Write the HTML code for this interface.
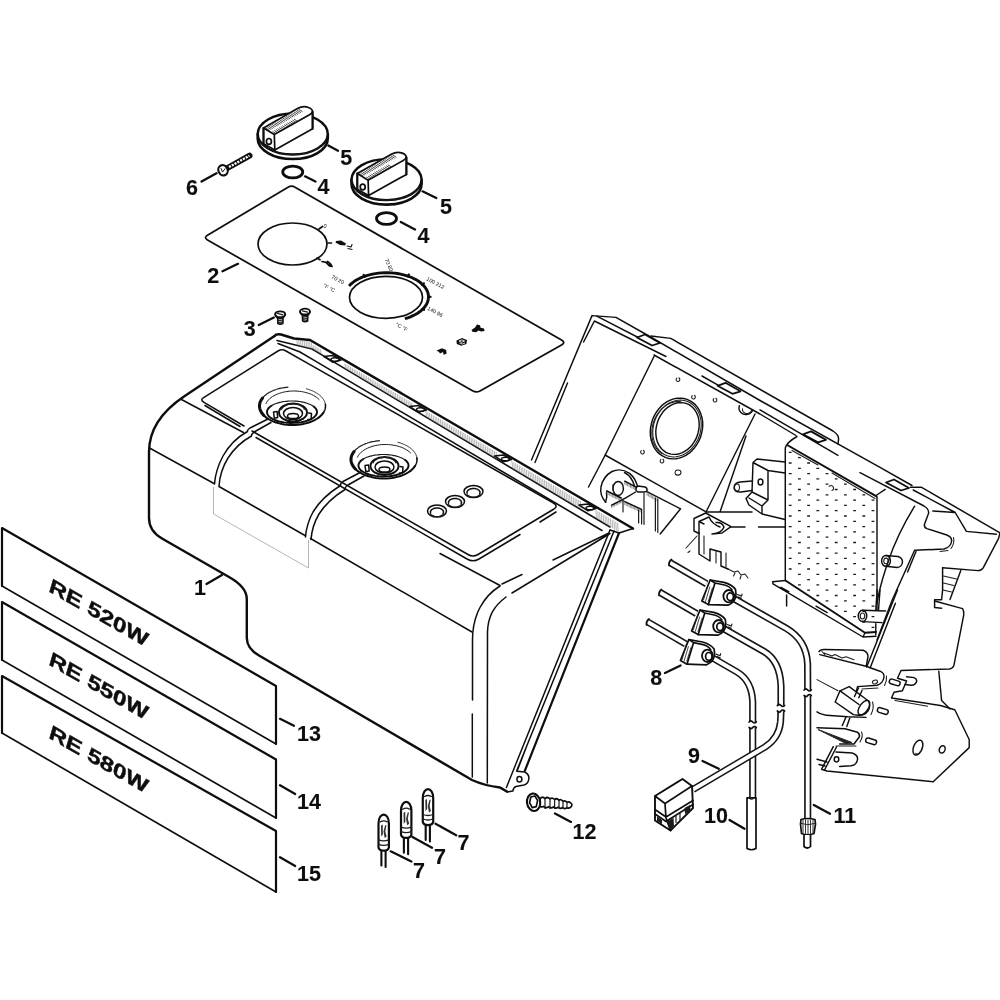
<!DOCTYPE html>
<html><head><meta charset="utf-8"><title>RE 520W / 550W / 580W parts diagram</title>
<style>
html,body{margin:0;padding:0;background:#fff;}
body{width:1000px;height:1000px;overflow:hidden;}
svg{display:block;}
.n{font-family:"Liberation Sans",sans-serif;font-weight:bold;font-size:21.5px;fill:#111;stroke:#111;stroke-width:.12;}
.m{font-family:"Liberation Sans",sans-serif;font-weight:bold;font-size:19px;fill:#111;stroke:#111;stroke-width:.4;}
.t{font-family:"Liberation Sans",sans-serif;font-size:5.4px;fill:#111;}
.k{stroke:#0c0c0c;stroke-width:2.2;fill:none;stroke-linecap:round;stroke-linejoin:round;}
.l{stroke:#101010;stroke-width:1.7;fill:none;stroke-linecap:round;stroke-linejoin:round;}
.h{stroke:#1c1c1c;stroke-width:1.2;fill:none;stroke-linecap:round;stroke-linejoin:round;}
.w{fill:#fff;}
#housing .l,#bracket .l{stroke-width:1.45;}
#cover .l{stroke-width:1.5;}
#housing .h,#bracket .h{stroke-width:1.05;}
</style></head>
<body>
<svg width="1000" height="1000" viewBox="0 0 1000 1000">
<rect width="1000" height="1000" fill="#fff"/>
<defs><filter id="soft" x="0" y="0" width="1000" height="1000" filterUnits="userSpaceOnUse"><feGaussianBlur stdDeviation="0.55"/></filter></defs>
<g id="all" filter="url(#soft)">
<!--LABELS-->
<g id="labels">
<path class="k" d="M2,586 L2,528 L276,686 L276,744"/><path class="l" style="stroke-width:1.6" d="M276,744 L2,586"/>
<path class="k" d="M2,660 L2,602 L276,759.5 L276,818"/><path class="l" style="stroke-width:1.6" d="M276,818 L2,660"/>
<path class="k" d="M2,733 L2,676 L276,831 L276,892"/><path class="l" style="stroke-width:1.6" d="M276,892 L2,733"/>
<text class="m" transform="matrix(1.205,0.691,-0.29,0.98,48,591)" x="0" y="0">RE 520W</text>
<text class="m" transform="matrix(1.205,0.691,-0.29,0.98,48,664.2)" x="0" y="0">RE 550W</text>
<text class="m" transform="matrix(1.205,0.691,-0.29,0.98,48,737.6)" x="0" y="0">RE 580W</text>
</g>
<!--PANEL-->
<g id="panel">
<path class="l" style="stroke-width:1.75" d="M207.5,235.3 L288,187.3 Q291.5,185.2 295,187.2 L561.5,340 Q566,342.5 561.5,345 L480,391 Q476.3,393 472.5,390.8 L207.5,239.9 Q203.5,237.6 207.5,235.3 Z"/>
<ellipse class="l" cx="292.5" cy="244" rx="34.5" ry="21"/>
<ellipse class="l" cx="386" cy="297.3" rx="36.5" ry="21"/>
<path class="k" style="stroke-width:2.9;stroke-linecap:butt" d="M349.1,285.9 L350.6,284.3 L352.4,282.8 L354.3,281.3 L356.5,280.0 L358.8,278.7 L361.2,277.6 L363.9,276.5 L366.6,275.6 L369.5,274.8 L372.4,274.1 L375.4,273.6 L378.5,273.1 L381.7,272.9 L384.9,272.7 L388.0,272.7 L391.2,272.9 L394.4,273.1 L397.5,273.5 L400.5,274.1 L403.4,274.8 L406.3,275.6 L409.1,276.5 L411.7,277.5 L414.1,278.7 L416.5,279.9 L418.6,281.3 L420.6,282.7 L422.3,284.3 L423.9,285.9 L425.2,287.5 L426.3,289.2 L427.2,291.0 L427.9,292.8 L428.3,294.6 L428.5,296.4 L428.4,298.3 L428.1,300.1 L427.6,301.9 L426.8,303.7 L425.8,305.4 L424.6,307.1 L423.1,308.7 L421.5,310.3 L419.6,311.8 L417.6,313.2 L415.3,314.5 L412.9,315.7 L410.4,316.8 L407.7,317.8 L404.9,318.7"/>
<path class="l" d="M319,229 L322.5,226.5 M328,243 L331.5,243 M317,258 L320,259.8"/><path class="k" style="stroke-width:2.2" d="M364.5,276.8 l-0.8,-1.8 M408,276.2 l0.8,-1.8 M422,284.6 l1.8,-1.2 M428.5,296.9 l2,0 M422.3,308.8 l1.8,1"/>
<text class="t" x="323.5" y="227.5" font-style="italic">0</text>
<path d="M336,241 l5,-0.5 l5,3 l-1,2 l-5,-0.5 l-4.5,-2.5z" fill="#111"/>
<path class="h" d="M347,246 l4,1 l1,-2.5 M348,248.5 l4,1"/>
<path class="l" d="M322,261.5 l4,0.8 M326,262.3 l3.5,3.6 l2.5,0.6 l-1.5,-2.6 l-3,-2.4"/>
<path d="M327.5,264 l4.5,3 l-1.5,-3.5z" fill="#111"/>
<text class="t" transform="translate(384.5,259.5) rotate(66)">70 80</text>
<text class="t" transform="translate(331,278) rotate(28)">70 20</text>
<text class="t" transform="translate(322.5,286.5) rotate(28)">°F °C</text>
<text class="t" transform="translate(426,280) rotate(28)">100 212</text>
<text class="t" transform="translate(427,309.5) rotate(28)">140 96</text>
<text class="t" transform="translate(395,325.5) rotate(28)">°C °F</text>
<g fill="#111">
<path d="M436.5,350.5 l5.5,-2.2 l4.2,1.8 l0.4,3.6 l-3,1 l-0.6,-2.6 l-3,1.4 l-1,-1.6z"/>
<path d="M456.5,340.5 l5.5,-2.6 l5,2.2 l-0.6,4 l-5,1.6 l-4.6,-1.8z"/>
<path d="M471.5,330 l3.5,-2.4 l2,-3 l3,0.6 l0.6,2.6 l3.4,0.6 l0.6,2.6 l-3.4,0.6 l-2.6,-1.2 l-2.6,1.8 l-3.6,-0.4z"/>
</g>
<path d="M459,341 l3,-1.2 l2.6,1.2 l-2.8,1.2z M459.5,343 l3,1 l2.5,-1" fill="none" stroke="#fff" stroke-width=".8"/>
</g>
<!--KNOBS-->
<g id="knobA">
<path class="k" style="stroke-width:2.6" d="M257.7,134 L257.7,138.5 A35,20.5 0 0 0 327.8,138.5 L327.8,134"/>
<ellipse class="k w" style="stroke-width:2.4" cx="292.75" cy="134" rx="35" ry="20.5"/>
<path class="h" d="M262,144 A35,20.5 0 0 0 323,144.5" style="stroke-width:.9"/>
<path class="l w" d="M263.5,128 L297.5,108.6 Q303,105.5 308.5,107.5 Q312.6,109 312.6,112 L312.6,128.8 L274.8,150 L263.5,143.7 Z"/>
<path class="l" d="M263.5,128 L274.3,134.6 L274.8,150 M274.3,134.6 L309.5,114.8 Q312,113.5 312.5,111.5"/>
<path class="h" style="stroke-width:.8" d="M266.0,128.2 l3.2,2.0 M267.6,127.3 l3.2,2.0 M269.1,126.4 l3.2,2.0 M270.7,125.5 l3.2,2.0 M272.3,124.6 l3.2,2.0 M273.9,123.7 l3.2,2.0 M275.4,122.9 l3.2,2.0 M277.0,122.0 l3.2,2.0 M278.6,121.1 l3.2,2.0 M280.1,120.2 l3.2,2.0 M281.7,119.3 l3.2,2.0 M283.3,118.4 l3.2,2.0 M284.9,117.5 l3.2,2.0 M286.4,116.6 l3.2,2.0 M288.0,115.7 l3.2,2.0 M289.6,114.8 l3.2,2.0 M291.1,114.0 l3.2,2.0 M292.7,113.1 l3.2,2.0 M294.3,112.2 l3.2,2.0 M295.9,111.3 l3.2,2.0 M297.4,110.4 l3.2,2.0 M299.0,109.5 l3.2,2.0 M275.5,133.2 l-2.6,-1.6 M277.2,132.3 l-2.6,-1.6 M278.8,131.3 l-2.6,-1.6 M280.5,130.4 l-2.6,-1.6 M282.1,129.4 l-2.6,-1.6 M283.8,128.5 l-2.6,-1.6 M285.4,127.6 l-2.6,-1.6 M287.1,126.6 l-2.6,-1.6 M288.7,125.7 l-2.6,-1.6 M290.4,124.8 l-2.6,-1.6 M292.0,123.8 l-2.6,-1.6 M293.7,122.9 l-2.6,-1.6 M295.3,121.9 l-2.6,-1.6 M297.0,121.0 l-2.6,-1.6"/>
<ellipse class="l" cx="268.9" cy="141.4" rx="2.5" ry="2.9"/>
<path class="k" style="stroke-width:2" d="M263.5,128 L263.5,143.7 M312.6,112 L312.6,128.8"/>
</g>
<use href="#knobA" transform="translate(93.8,45.6)"/>
<ellipse class="k" style="stroke-width:2.8" cx="292.75" cy="172" rx="10" ry="5.9"/>
<ellipse class="k" style="stroke-width:2.8" cx="386.5" cy="218.5" rx="10" ry="5.9"/>
<!--COVER-->
<g id="cover">
<!-- outline -->
<path class="k" style="stroke-width:2.4" d="M274.5,336 L184,396.5 C161,412 149,430 149,452 L149,518 Q149,531 162,538.5 L229,577 Q246.8,587 246.8,599 L246.8,638 Q246.8,648.5 259,655.5 L472,780 Q484,785.5 500,787.5 L507,791.5"/>
<path class="k" style="stroke-width:2.5" d="M274.5,336 Q276.5,333.5 281,334.5 L294,338.5 L310,340 L633,528.5"/>
<path class="l" d="M633,528.5 L619,533 L610,530"/>
<path class="l" d="M277,340.5 L312,349 L610,527"/>
<path class="l" d="M278,343.5 L300,352 L602,530.5"/>
<path class="h" style="stroke-width:.55;stroke:#777" d="M297.0,340.4 L297.5,345.1 M298.8,340.6 L299.3,345.5 M300.6,340.7 L301.1,346.0 M302.4,340.9 L302.9,346.4 M304.2,341.1 L304.7,346.8 M306.0,341.2 L306.5,347.3 M307.8,341.4 L308.3,347.7 M309.6,341.6 L310.1,348.1 M311.4,342.4 L311.9,348.6 M313.2,345.5 L313.7,349.6 M315.0,346.5 L315.5,350.7 M316.8,347.6 L317.3,351.8 M318.6,348.6 L319.1,352.8 M320.4,349.7 L320.9,353.9 M345.0,364.0 L345.5,368.6 M346.8,365.1 L347.3,369.7 M348.6,366.1 L349.1,370.7 M350.4,367.2 L350.9,371.8 M352.2,368.2 L352.7,372.9 M354.0,369.3 L354.5,374.0 M355.8,370.3 L356.3,375.0 M357.6,371.4 L358.1,376.1 M359.4,372.4 L359.9,377.2 M361.2,373.5 L361.7,378.3 M363.0,374.5 L363.5,379.3 M364.8,375.6 L365.3,380.4 M366.6,376.6 L367.1,381.5 M368.4,377.7 L368.9,382.6 M370.2,378.7 L370.7,383.6 M372.0,379.8 L372.5,384.7 M373.8,380.8 L374.3,385.8 M375.6,381.9 L376.1,386.9 M377.4,382.9 L377.9,387.9 M379.2,384.0 L379.7,389.0 M381.0,385.0 L381.5,390.1 M382.8,386.1 L383.3,391.2 M384.6,387.1 L385.1,392.2 M386.4,388.2 L386.9,393.3 M388.2,389.2 L388.7,394.4 M390.0,390.3 L390.5,395.5 M391.8,391.3 L392.3,396.5 M393.6,392.4 L394.1,397.6 M395.4,393.4 L395.9,398.7 M397.2,394.5 L397.7,399.8 M399.0,395.5 L399.5,400.8 M400.8,396.6 L401.3,401.9 M402.6,397.6 L403.1,403.0 M404.4,398.7 L404.9,404.1 M406.2,399.7 L406.7,405.1 M408.0,400.8 L408.5,406.2 M409.8,401.8 L410.3,407.3 M411.6,402.9 L412.1,408.4 M426.0,411.3 L426.5,417.0 M427.8,412.3 L428.3,418.0 M429.6,413.4 L430.1,419.1 M431.4,414.4 L431.9,420.2 M433.2,415.5 L433.7,421.3 M435.0,416.6 L435.5,422.3 M436.8,417.6 L437.3,423.4 M438.6,418.7 L439.1,424.5 M440.4,419.7 L440.9,425.6 M442.2,420.8 L442.7,426.6 M444.0,421.8 L444.5,427.7 M445.8,422.9 L446.3,428.8 M447.6,423.9 L448.1,429.9 M449.4,425.0 L449.9,430.9 M451.2,426.0 L451.7,432.0 M453.0,427.1 L453.5,433.1 M454.8,428.1 L455.3,434.2 M456.6,429.2 L457.1,435.2 M458.4,430.2 L458.9,436.3 M460.2,431.3 L460.7,437.4 M462.0,432.3 L462.5,438.4 M463.8,433.4 L464.3,439.5 M465.6,434.4 L466.1,440.6 M467.4,435.5 L467.9,441.7 M469.2,436.5 L469.7,442.7 M471.0,437.6 L471.5,443.8 M472.8,438.6 L473.3,444.9 M474.6,439.7 L475.1,446.0 M476.4,440.7 L476.9,447.0 M478.2,441.8 L478.7,448.1 M480.0,442.8 L480.5,449.2 M481.8,443.9 L482.3,450.3 M483.6,444.9 L484.1,451.3 M485.4,446.0 L485.9,452.4 M487.2,447.0 L487.7,453.5 M489.0,448.1 L489.5,454.6 M490.8,449.1 L491.3,455.6 M492.6,450.2 L493.1,456.7 M494.4,451.2 L494.9,457.8 M496.2,452.3 L496.7,458.9 M512.0,461.5 L512.5,468.3 M513.8,462.5 L514.3,469.4 M515.6,463.6 L516.1,470.4 M517.4,464.6 L517.9,471.5 M519.2,465.7 L519.7,472.6 M521.0,466.7 L521.5,473.7 M522.8,467.8 L523.3,474.7 M524.6,468.8 L525.1,475.8 M526.4,469.9 L526.9,476.9 M528.2,470.9 L528.7,478.0 M530.0,472.0 L530.5,479.0 M531.8,473.0 L532.3,480.1 M533.6,474.1 L534.1,481.2 M535.4,475.1 L535.9,482.3 M537.2,476.2 L537.7,483.3 M539.0,477.2 L539.5,484.4 M540.8,478.3 L541.3,485.5 M542.6,479.3 L543.1,486.6 M544.4,480.4 L544.9,487.6 M546.2,481.4 L546.7,488.7 M548.0,482.5 L548.5,489.8 M549.8,483.5 L550.3,490.9 M551.6,484.6 L552.1,491.9 M553.4,485.6 L553.9,493.0 M555.2,486.7 L555.7,494.1 M557.0,487.7 L557.5,495.2 M558.8,488.8 L559.3,496.2 M560.6,489.9 L561.1,497.3 M562.4,490.9 L562.9,498.4 M564.2,492.0 L564.7,499.5 M566.0,493.0 L566.5,500.5 M567.8,494.1 L568.3,501.6 M569.6,495.1 L570.1,502.7 M571.4,496.2 L571.9,503.8 M573.2,497.2 L573.7,504.8 M575.0,498.3 L575.5,505.9 M576.8,499.3 L577.3,507.0 M578.6,500.4 L579.1,508.1 M580.4,501.4 L580.9,509.1 M596.0,510.5 L596.5,518.4 M597.8,511.6 L598.3,519.5 M599.6,512.6 L600.1,520.6 M601.4,513.7 L601.9,521.7 M603.2,514.7 L603.7,522.7 M605.0,515.8 L605.5,523.8 M606.8,516.8 L607.3,524.9 M608.6,517.9 L609.1,526.0 M610.4,518.9 L610.9,527.0 M612.2,520.0 L612.7,528.1 M614.0,521.0 L614.5,529.2 M615.8,522.1 L616.3,530.3 M617.6,523.1 L618.1,531.3"/>
<!-- clips on flange -->
<g id="clipc"><path class="l" d="M324,356.5 l9,-1 l8,4.6 l-8,2.2z" fill="#fff"/><ellipse class="l" cx="335" cy="359.5" rx="4" ry="1.8"/></g>
<use href="#clipc" transform="translate(85.5,50)"/>
<use href="#clipc" transform="translate(170.5,99.5)"/>
<use href="#clipc" transform="translate(255,148.5)"/>
<!-- recessed panel -->
<path class="l" d="M204,397.3 Q199.5,399.8 204,402.3 L244,426 M252,431 L468,554.5 Q473,557.5 478,554.5 L554,509 Q558.5,506 553.5,503 L286,351 Q282,348.6 278,351 L204,397.3"/>
<path class="l" d="M205,405.5 L240,426.5 M256,437.5 L467,559 Q473,562.5 479,559 L520,534.5 M540,522 L556,512"/>
<!-- line A -->
<path class="l" d="M180.5,399 L243.5,432.5 M440,553.5 L500,585.5"/>
<!-- line B -->
<path class="l" d="M149.5,448 L214,483.5 M219,486.5 L305,535.5 M310.5,538.5 L472,632"/>
<!-- straps -->
<path class="l" d="M268,419 L250,428 Q247,430 247.5,431.5 Q232,440 223,456 Q215.5,470 214.5,484"/>
<path class="l" d="M271,422.5 L255,431.5 Q251,434 251.5,436 Q237,444 228,458 Q220,471 219,486"/>
<path class="l" d="M361,472 L343,481.5 Q340,483.5 340.5,485.5 Q322,497 313,512 Q306.5,524 305.5,537"/>
<path class="l" d="M364,476 L348,485 Q344.5,487.5 345,489.5 Q328,500 319,514 Q312,526 311,539.5"/>
<!-- faint rect -->
<path d="M213.5,487 L213.5,514 L308.5,568 L308.5,540" fill="none" stroke="#b5b5b5" stroke-width="1"/>
<!-- right rounded edge -->
<path class="l" d="M502,584 L522,574.5 M553,560 L608,533.5 M512,593 L610,533.5"/>
<path class="l" d="M500,586 C484,596 472.5,614 472.5,640 L472.5,700 M472.3,714 L472.3,777"/>
<path class="l" d="M506,597 C494,606 488,616 487.5,632 L487.3,783"/>
<!-- right flange -->
<path class="l" d="M610,530 L506.4,787.5"/>
<path class="l" d="M614,531 L516.8,770.5 M526,748 L517.5,770"/>
<path class="k" style="stroke-width:2.2" d="M619,533 L524.8,770.8"/>
<path class="l" d="M516.8,771.2 L524.8,772 Q529.5,774.5 528.8,779 Q528.5,783.5 524,785 L516,786.4 Q513.5,787 512.8,791 L507.2,792 L500.8,788"/>
<ellipse class="l" cx="519.4" cy="779.2" rx="2.5" ry="2.7"/>
<g id="mount">
<path class="k" d="M263.9,415.5 L263.4,415.0 L262.9,414.4 L262.5,413.9 L262.0,413.3 L261.7,412.8 L261.3,412.2 L261.0,411.6 L260.7,411.0 L260.4,410.4 L260.2,409.8 L260.0,409.2 L259.8,408.6 L259.7,408.0 L259.6,407.4 L259.5,406.8 L259.5,406.2 L259.5,405.6 L259.5,405.0 L259.6,404.4 L259.7,403.8 L259.9,403.2 L260.0,402.6 L260.2,402.0 L260.5,401.4 L260.8,400.8 L261.1,400.2 L261.4,399.7 L261.8,399.1 L262.2,398.5 L262.6,398.0" style="stroke-width:3"/>
<path class="l" d="M323.5,412.5 L322.5,413.9 L321.3,415.3 L319.9,416.6 L318.3,417.9 L316.5,419.0 L314.6,420.1 L312.5,421.1 L310.3,422.0 L308.0,422.8 L305.6,423.4 L303.1,424.0 L300.5,424.4 L297.9,424.7 L295.2,424.9 L292.5,425.0 L289.8,424.9 L287.1,424.7 L284.5,424.4 L281.9,424.0 L279.4,423.4 L277.0,422.8 L274.7,422.0 L272.5,421.1 L270.4,420.1 L268.5,419.0 L266.7,417.9 L265.1,416.6 L263.7,415.3 L262.5,413.9 L261.5,412.5" style="stroke-width:2"/>
<path class="h" d="M261.5,399.5 L261.9,398.9 L262.4,398.2 L262.9,397.6 L263.4,397.0 L264.0,396.4 L264.6,395.8 L265.3,395.2 L266.0,394.7 L266.7,394.1 L267.5,393.6 L268.3,393.1 L269.1,392.6 L269.9,392.1 L270.8,391.7 L271.7,391.2 L272.7,390.8 L273.6,390.4 L274.6,390.0 L275.6,389.7 L276.7,389.3 L277.7,389.0 L278.8,388.7 L279.9,388.4 L281.0,388.2 L282.1,388.0 L283.3,387.8 L284.4,387.6 L285.6,387.4 L286.7,387.3 L287.9,387.2"/>
<path class="h" d="M306.4,388.8 L307.6,389.1 L308.7,389.4 L309.7,389.8 L310.8,390.2 L311.8,390.6 L312.8,391.0 L313.8,391.5 L314.7,392.0 L315.6,392.4 L316.5,393.0 L317.3,393.5 L318.1,394.0 L318.9,394.6 L319.6,395.2 L320.3,395.8 L321.0,396.4 L321.6,397.0 L322.2,397.7 L322.7,398.3 L323.2,399.0 L323.6,399.7 L324.0,400.3 L324.4,401.0 L324.7,401.7 L324.9,402.4 L325.1,403.1 L325.3,403.8 L325.4,404.6 L325.5,405.3 L325.5,406.0" style="stroke-width:.9"/>
<path class="l" d="M325.4,404.3 L325.4,404.7 L325.5,405.0 L325.5,405.3 L325.5,405.7 L325.5,406.0 L325.5,406.3 L325.5,406.7 L325.5,407.0 L325.4,407.3 L325.4,407.7 L325.3,408.0 L325.3,408.3 L325.2,408.6 L325.1,409.0 L325.0,409.3 L324.9,409.6 L324.8,410.0 L324.7,410.3 L324.5,410.6 L324.4,410.9 L324.2,411.2 L324.1,411.6 L323.9,411.9 L323.7,412.2 L323.5,412.5 L323.3,412.8 L323.1,413.1 L322.9,413.4 L322.6,413.7 L322.4,414.0"/>
<path class="h" d="M266.0,403.6 L266.7,402.3 L267.5,401.1 L268.5,399.9 L269.7,398.7 L271.0,397.7 L272.4,396.6 L274.0,395.7 L275.7,394.8 L277.6,394.0 L279.5,393.3 L281.5,392.7 L283.6,392.1 L285.8,391.7 L288.0,391.4 L290.2,391.1 L292.5,391.0 L294.8,391.0 L297.0,391.1 L299.3,391.3 L301.5,391.6 L303.7,392.0 L305.8,392.5 L307.8,393.1 L309.8,393.7 L311.7,394.5 L313.4,395.4 L315.0,396.3 L316.5,397.3 L317.9,398.4 L319.1,399.5" style="stroke-width:1"/>
<path class="l" d="M313.7,406.5 L315.2,407.9 L316.3,409.4 L316.9,410.9 L317.0,412.5 L316.6,414.1 L315.6,415.6 L314.2,417.0 L312.4,418.4 L310.1,419.6 L307.5,420.6 L304.6,421.5 L301.4,422.2 L298.0,422.7 L294.5,422.9 L290.9,423.0 L287.4,422.8 L283.9,422.4 L280.7,421.8 L277.6,421.0 L274.8,420.0 L272.4,418.8 L270.4,417.6 L268.8,416.2 L267.7,414.7 L267.1,413.1 L267.0,411.6 L267.4,410.0 L268.3,408.5 L269.7,407.0 L271.5,405.7" style="stroke-width:1.9"/>
<path class="h" d="M271.5,405.7 L272.5,405.1 L273.6,404.5 L274.8,404.0 L276.0,403.5 L277.4,403.1 L278.8,402.7 L280.2,402.3 L281.7,402.0 L283.2,401.7 L284.8,401.5 L286.4,401.3 L288.1,401.1 L289.7,401.0 L291.4,401.0 L293.1,401.0 L294.8,401.1 L296.4,401.2 L298.0,401.3 L299.7,401.5 L301.2,401.8 L302.8,402.1 L304.2,402.4 L305.7,402.8 L307.0,403.2 L308.3,403.7 L309.6,404.2 L310.7,404.7 L311.8,405.3 L312.8,405.9 L313.7,406.5"/>
<ellipse class="l" cx="293" cy="412.5" rx="14" ry="9" style="stroke-width:1.9"/>
<ellipse class="l" cx="293" cy="413.5" rx="9.5" ry="6"/>
<ellipse class="l" cx="293" cy="416" rx="5.5" ry="2.6"/>
<path class="h" d="M281.7,409.4 L281.9,408.8 L282.2,408.2 L282.7,407.7 L283.2,407.1 L283.8,406.6 L284.5,406.2 L285.2,405.7 L286.0,405.3 L286.9,405.0 L287.8,404.7 L288.8,404.4 L289.8,404.3 L290.9,404.1 L291.9,404.0 L293.0,404.0 L294.1,404.0 L295.1,404.1 L296.2,404.3 L297.2,404.4 L298.2,404.7 L299.1,405.0 L300.0,405.3 L300.8,405.7 L301.5,406.2 L302.2,406.6 L302.8,407.1 L303.3,407.7 L303.8,408.2 L304.1,408.8 L304.3,409.4"/>
<path class="l" d="M273.5,412 l3.6,-0.6 l0.6,6 l-3.4,0.8z M308.5,413 l3,0.6 l-0.4,5.6 l-3.2,0.4"/>
</g>
<use href="#mount" transform="translate(91.5,53.5)"/>
<!-- led holes -->
<g id="led"><ellipse class="l" cx="473.5" cy="491.5" rx="9.5" ry="6"/><path class="l" d="M467.1,493.2 L467.0,492.7 L467.0,492.2 L467.1,491.7 L467.3,491.3 L467.6,490.8 L468.0,490.4 L468.4,490.0 L469.0,489.6 L469.6,489.3 L470.2,489.0 L471.0,488.8 L471.7,488.7 L472.5,488.5 L473.3,488.5 L474.1,488.5 L474.9,488.6 L475.6,488.7 L476.3,488.9 L477.0,489.1 L477.7,489.4 L478.3,489.8 L478.8,490.1 L479.2,490.6 L479.5,491.0 L479.8,491.5 L479.9,491.9 L480.0,492.4 L480.0,492.9 L479.8,493.4 L479.6,493.9"/><path class="h" d="M479.9,494.1 L479.8,494.5 L479.6,494.8 L479.3,495.1 L479.1,495.4 L478.7,495.6 L478.3,495.9 L477.9,496.1 L477.4,496.4 L476.9,496.6 L476.4,496.7 L475.9,496.9 L475.3,497.0 L474.7,497.0 L474.1,497.1 L473.5,497.1 L472.9,497.1 L472.3,497.0 L471.7,497.0 L471.1,496.9 L470.6,496.7 L470.1,496.6 L469.6,496.4 L469.1,496.1 L468.7,495.9 L468.3,495.6 L467.9,495.4 L467.7,495.1 L467.4,494.8 L467.2,494.5 L467.1,494.1"/></g>
<use href="#led" transform="translate(-18.5,10)"/>
<use href="#led" transform="translate(-36.5,19.5)"/>
</g>
<!--HOUSING-->
<g id="bracket">
<!-- upper right lid -->
<path class="l" d="M910.4,487.3 L921.6,487.3 L1000,532.8 L998.6,538.4 L983.2,567.8 Q981.5,570.5 978,570.6 L942.6,567.8"/>
<path class="l" d="M913.2,490 L955.2,512.5 L966.4,531.4 L996.5,534.2 M932.8,511 L955.2,512.5"/>
<path class="l" d="M860,472.6 L924,506 Q929,509 928.6,513.2 L924.4,524.4 Q924,527.5 927,528.6 L946.8,535 Q952,537 951.6,541 Q951,547 944,549 L914.6,550.3 L892.2,600 L877,640"/>
<path class="h" d="M953.5,537.5 Q955,543 951,548.5 M940,551.5 L948,550.5"/>
<path class="l" d="M914.6,506.2 Q897,535 888,562 Q880,585 876.8,604"/>
<path class="l" d="M916,551.5 L907.6,572"/>
<path class="l" d="M876,495.5 L885.2,489.4"/>
<!-- small cylinders -->
<path class="l" d="M886,555.5 L898,556.5 Q902.5,558 902.5,562 Q902,567 897,567.5 L886,566.3"/>
<ellipse class="l" cx="886" cy="560.9" rx="4.4" ry="5.4"/><ellipse class="h" cx="886" cy="560.9" rx="2.2" ry="2.8"/>
<path class="l" d="M862.5,610.3 L885.6,611 M862.5,621.6 L882,622.6"/>
<ellipse class="l" cx="862.5" cy="615.9" rx="4.2" ry="5.6"/><ellipse class="h" cx="862.5" cy="615.9" rx="2.2" ry="3"/>
<!-- ladder -->
<path class="l" d="M942.6,567.8 L942.6,590 L941.6,599.8 L934.6,599.8 L934.6,607.5 L941.6,608.2 M960.8,570.6 L950,599.5"/>
<path class="h" d="M943.5,576 L956.5,579 M943.5,583 L953.8,585.4 M943,590 L951.5,592"/>
<!-- lower body -->
<path class="l" d="M934.6,601 L962.6,608.6 Q964,611 963.7,615.2 L953.8,665.8 Q952.5,668.8 949.4,669 L901,670.5 L897.5,678.2 L906.6,681 L902.4,690.8 L894,692.2 L891.5,698 L940.4,705.5 L954.8,709.8 L969.2,739.5 L969.2,747.6 L933.2,781.8 L827,771 L821.6,769.2 L833.3,746.7"/>
<path class="l" d="M938.8,671.2 L941.6,700.6 L950,709 M906.6,676.8 L914,677.6 Q917.5,679 916.4,682 Q915,685.5 911,685.2 L905,684.5"/>
<path class="h" d="M895,700.5 L927.6,706.2"/>
<rect class="l" x="889.2" y="680.0" width="11" height="4.8" rx="2.2" transform="rotate(17 894.7 682.4)"/><rect class="l" x="877.3" y="708.6" width="11" height="4.8" rx="2.2" transform="rotate(17 882.8 711)"/><rect class="l" x="865.6" y="738.9" width="11" height="4.8" rx="2.2" transform="rotate(17 871.1 741.3)"/>
<path class="l" d="M921.9,749.2 L921.4,750.3 L920.8,751.4 L920.1,752.3 L919.4,753.2 L918.7,753.9 L917.9,754.4 L917.1,754.8 L916.4,755.0 L915.6,755.0 L915.0,754.8 L914.4,754.5 L913.9,754.0 L913.5,753.3 L913.2,752.5 L913.0,751.6 L913.0,750.5 L913.0,749.4 L913.2,748.3 L913.5,747.1 L913.9,746.0 L914.4,744.9 L915.0,743.8 L915.7,742.9 L916.4,742.0 L917.1,741.3 L917.9,740.8 L918.7,740.4 L919.4,740.2 L920.2,740.2 L920.8,740.4 L921.4,740.7 L921.9,741.2 L922.3,741.9 L922.6,742.7 L922.8,743.6 L922.8,744.7 L922.8,745.8 L922.6,746.9 L922.3,748.1 L921.9,749.2"/><path class="h" d="M922.2,742.8 L922.3,743.1 L922.4,743.4 L922.5,743.7 L922.6,744.0 L922.6,744.4 L922.7,744.8 L922.7,745.2 L922.6,745.6 L922.6,746.1 L922.5,746.5 L922.4,747.0 L922.3,747.4 L922.2,747.9 L922.1,748.4 L921.9,748.9 L921.7,749.3 L921.5,749.8 L921.3,750.2 L921.0,750.7 L920.8,751.1 L920.5,751.5 L920.3,751.9 L920.0,752.2 L919.7,752.5 L919.4,752.8 L919.1,753.1 L918.9,753.3 L918.6,753.5 L918.3,753.7 L918.0,753.9 L917.7,754.0 L917.5,754.0 L917.2,754.0 L917.0,754.0 L916.7,754.0 L916.5,753.9 L916.3,753.8 L916.1,753.6 L915.9,753.4 L915.8,753.2"/>
<path class="l" d="M944.8,750.4 L944.5,751.0 L944.2,751.5 L943.9,751.9 L943.5,752.3 L943.0,752.6 L942.6,752.9 L942.1,753.0 L941.6,753.1 L941.2,753.0 L940.8,752.9 L940.4,752.7 L940.0,752.4 L939.8,752.1 L939.5,751.6 L939.4,751.1 L939.3,750.6 L939.2,750.1 L939.3,749.5 L939.4,748.9 L939.6,748.4 L939.9,747.8 L940.2,747.3 L940.5,746.9 L940.9,746.5 L941.4,746.2 L941.8,745.9 L942.3,745.8 L942.8,745.7 L943.2,745.8 L943.6,745.9 L944.0,746.1 L944.4,746.4 L944.6,746.7 L944.9,747.2 L945.0,747.7 L945.1,748.2 L945.2,748.7 L945.1,749.3 L945.0,749.9 L944.8,750.4"/>
<!-- diagonal double line -->
<path class="l" d="M897.5,590 L866.7,667 M895.4,603.3 L870.2,667.7"/>
<path class="l" d="M877.2,590 L875.8,609.6 M880,590 L878.5,610 M875.8,623.6 L875.8,634.8"/>
<!-- shelf end -->
<path class="k" style="stroke-width:1.9" d="M785.5,580.5 L865,632.8 L876,632"/><path class="l" d="M785.5,580.5 L772.6,581.7 L773,583.8 L863,637 L876,636.3 M865,632.8 L863,637 M781,587.3 L788.7,591.6 M816,606.2 L827.2,612.6 M786.6,595 V606"/>
<!-- tabs -->
<path class="l" d="M819,651.6 Q820,649.5 824,649.5 L863.2,650.2 Q868,652 868,656.5 L866.3,666 M819.8,654.6 L866,666.3 L880,671.2 Q884.5,673 884,677 Q883,683.5 877.2,685.2 L857.6,686.6 L854.8,696.4"/>
<path class="h" d="M824,653 l8,3 l3,-1.5 l7,3.5 l4,-1.2 l8,3 M822,651.5 l3,3.5 M886.5,676 Q887,681 884.5,685.5 M862,689 L878,688"/>
<ellipse class="h" cx="875" cy="682" rx="2.6" ry="1.8" transform="rotate(-20 875 682)"/>
<!-- cylinder knob -->
<path class="l w" d="M835.2,702 L840,690.8 L849.2,686.6 L868.5,701 Q871,706 868,711 Q864,716 858,715.2 L853.4,714.6 Z"/>
<path class="l" d="M867.3,710.0 L866.6,711.0 L865.7,712.0 L864.8,712.8 L863.9,713.5 L863.0,714.1 L862.1,714.5 L861.3,714.7 L860.5,714.7 L859.8,714.6 L859.2,714.3 L858.7,713.9 L858.4,713.2 L858.1,712.5 L858.1,711.6 L858.1,710.6 L858.4,709.6 L858.7,708.5 L859.2,707.4 L859.8,706.3 L860.5,705.2 L861.2,704.2 L862.1,703.2 L863.0,702.4 L863.9,701.7 L864.8,701.1 L865.7,700.7 L866.5,700.5 L867.3,700.5 L868.0,700.6 L868.6,700.9 L869.1,701.3 L869.4,702.0 L869.7,702.7 L869.7,703.6 L869.7,704.6 L869.4,705.6 L869.1,706.7 L868.6,707.8 L868.0,708.9 L867.3,710.0"/>
<path class="l" d="M840,690.8 L859,704.5"/>
<path class="h" d="M817,679.6 L838,690.8 M872.5,702 Q874.5,708 871,714.5"/>
<path class="l" d="M854.5,696.5 L858.5,688 M858.8,697.8 L862,690.5"/>
<path class="l" d="M817,711.8 Q822,715 830,715.5 L847.8,716.7 L866,717.4"/>
<path class="l" d="M842.3,725.5 L846,717 M846.8,726.5 L849.8,718"/>
<path class="l" d="M817,727.8 L845,728.7 L857.6,732.3 Q860,734 859.4,736.8 L854,744 L839.6,744"/>
<path d="M818,729.5 L852,742.5 L846,743.5 Z" fill="#222" stroke="#222" stroke-width="1"/>
<path class="h" d="M861.5,732 Q863.5,736 860,742 M836,746 L856,746"/>
<path class="l" d="M836.5,747 L824.5,770 M836,752 L852.2,753 Q857.8,755 857.6,759 Q857,765 851,765.8 L839.6,766.5"/>
<ellipse class="l" cx="836.5" cy="759.3" rx="2.3" ry="2.6"/>
<path class="l" d="M817,759.3 L827,762 M819,764.5 L825,766"/>
</g>
<g id="housing">
<!-- left edge -->
<path class="l" d="M531.5,460 L592,315.6 L616,317.4 L648,335.5"/>
<path class="l" d="M535,462.5 L567.5,383 M583.6,342 L594.4,321 L666,356.5"/>
<path class="l" d="M596.8,316.2 L645,341 M702,376 L717.6,384.8"/>
<!-- long lines -->
<path class="l" d="M651,336 L670.8,338.4 L833,431 Q838.6,434.5 838.6,439 L838,444"/>
<path class="l" d="M648,335.5 L760,400.5 L880,467.4 L912,485.5"/>
<path class="l" d="M654,355 L760,414 L796,435.5"/>
<path class="l" d="M760,409.8 L838,455.4"/>
<!-- clips -->
<g id="hclip"><path class="l w" d="M637,337.5 L645,334.5 L660,343 L652,345.5 Z" style="stroke-width:1.8"/></g>
<use href="#hclip" transform="translate(80.5,48.3)"/>
<use href="#hclip" transform="translate(166,96.9)"/>
<use href="#hclip" transform="translate(249,145)"/>
<!-- divider and panel borders -->
<path class="l" d="M654,356.5 L605,455.5 L588.5,487"/>
<path class="l" d="M605,455 L706,511.8"/>
<path class="l" d="M755,414 L706,512 M746,436 L720,512 M706,512 L752,512"/>
<path class="l" d="M752.6,410.2 L752.4,410.6 L752.2,411.0 L752.0,411.4 L751.7,411.7 L751.5,412.1 L751.2,412.4 L750.8,412.7 L750.5,413.0 L750.1,413.2 L749.8,413.5 L749.4,413.7 L749.0,413.9 L748.5,414.1 L748.1,414.2 L747.7,414.3 L747.2,414.4 L746.8,414.5 L746.3,414.5 L745.8,414.5 L745.4,414.5 L744.9,414.4 L744.5,414.3 L744.0,414.2 L743.6,414.1 L743.2,413.9 L742.8,413.8 L742.4,413.6 L742.0,413.3 L741.6,413.1 L741.3,412.8 L740.9,412.5 L740.6,412.2 L740.4,411.8 L740.1,411.5 L739.9,411.1 L739.7,410.7 L739.5,410.4 L739.3,410.0 L739.2,409.5 L739.1,409.1 L739.0,408.7 L739.0,408.3 L739.0,407.9 L739.0,407.4 L739.1,407.0 L739.2,406.6 L739.3,406.2 L739.4,405.8"/>
<path class="h" d="M751.4,410.2 L751.4,410.5 L751.3,410.7 L751.2,410.9 L751.1,411.2 L750.9,411.4 L750.8,411.6 L750.6,411.9 L750.4,412.1 L750.3,412.3 L750.0,412.4 L749.8,412.6 L749.6,412.8 L749.3,412.9 L749.1,413.0 L748.8,413.2 L748.5,413.3 L748.3,413.3 L748.0,413.4 L747.7,413.5 L747.4,413.5 L747.1,413.5 L746.8,413.5 L746.5,413.5 L746.2,413.4 L745.9,413.4 L745.6,413.3 L745.4,413.2 L745.1,413.1 L744.8,413.0 L744.6,412.9 L744.3,412.7 L744.1,412.6 L743.9,412.4 L743.7,412.2 L743.5,412.0 L743.3,411.8 L743.2,411.6 L743.0,411.3 L742.9,411.1 L742.8,410.9 L742.7,410.6 L742.6,410.4 L742.6,410.1 L742.5,409.8 L742.5,409.6 L742.5,409.3 L742.5,409.1 L742.6,408.8"/>
<!-- ring -->
<path class="l" d="M700.5,437.2 L698.9,440.9 L696.9,444.5 L694.6,447.7 L692.0,450.6 L689.1,453.2 L685.9,455.3 L682.7,456.9 L679.3,458.1 L675.9,458.8 L672.5,458.9 L669.1,458.5 L665.9,457.6 L662.9,456.2 L660.1,454.4 L657.5,452.1 L655.3,449.4 L653.5,446.3 L652.1,442.9 L651.0,439.3 L650.4,435.5 L650.3,431.6 L650.6,427.6 L651.4,423.7 L652.5,419.8 L654.1,416.1 L656.1,412.5 L658.4,409.3 L661.0,406.4 L663.9,403.8 L667.1,401.7 L670.3,400.1 L673.7,398.9 L677.1,398.2 L680.5,398.1 L683.9,398.5 L687.1,399.4 L690.1,400.8 L692.9,402.6 L695.5,404.9 L697.7,407.6 L699.5,410.7 L700.9,414.1 L702.0,417.7 L702.6,421.5 L702.7,425.4 L702.4,429.4 L701.6,433.3 L700.5,437.2"/>
<path class="h" d="M699.1,436.5 L697.6,440.0 L695.8,443.3 L693.6,446.4 L691.2,449.1 L688.5,451.5 L685.6,453.5 L682.6,455.0 L679.5,456.1 L676.3,456.8 L673.1,456.9 L670.0,456.6 L667.1,455.8 L664.3,454.5 L661.7,452.7 L659.4,450.6 L657.4,448.1 L655.7,445.2 L654.4,442.1 L653.4,438.7 L652.9,435.2 L652.8,431.5 L653.1,427.8 L653.8,424.1 L654.9,420.5 L656.4,417.0 L658.2,413.7 L660.4,410.6 L662.8,407.9 L665.5,405.5 L668.4,403.5 L671.4,402.0 L674.5,400.9 L677.7,400.2 L680.9,400.1 L684.0,400.4 L686.9,401.2 L689.7,402.5 L692.3,404.3 L694.6,406.4 L696.6,408.9 L698.3,411.8 L699.6,414.9 L700.6,418.3 L701.1,421.8 L701.2,425.5 L700.9,429.2 L700.2,432.9 L699.1,436.5"/>
<path class="l" d="M697.2,435.7 L695.9,438.9 L694.2,441.9 L692.3,444.7 L690.1,447.2 L687.6,449.4 L685.0,451.2 L682.3,452.6 L679.5,453.7 L676.7,454.3 L673.9,454.4 L671.1,454.1 L668.4,453.4 L665.9,452.3 L663.6,450.7 L661.6,448.8 L659.8,446.5 L658.3,443.9 L657.1,441.0 L656.3,438.0 L655.9,434.7 L655.8,431.4 L656.1,428.0 L656.8,424.6 L657.8,421.3 L659.1,418.1 L660.8,415.1 L662.7,412.3 L664.9,409.8 L667.4,407.6 L670.0,405.8 L672.7,404.4 L675.5,403.3 L678.3,402.7 L681.1,402.6 L683.9,402.9 L686.6,403.6 L689.1,404.7 L691.4,406.3 L693.4,408.2 L695.2,410.5 L696.7,413.1 L697.9,416.0 L698.7,419.0 L699.1,422.3 L699.2,425.6 L698.9,429.0 L698.2,432.4 L697.2,435.7"/>
<path class="h" d="M661.9,453.6 L660.8,452.8 L659.8,452.0 L658.8,451.1 L657.8,450.1 L657.0,449.1 L656.1,447.9 L655.4,446.8 L654.7,445.5 L654.1,444.2 L653.5,442.9 L653.0,441.5 L652.6,440.0 L652.3,438.5 L652.1,437.0 L651.9,435.5 L651.8,433.9 L651.8,432.4 L651.9,430.8 L652.0,429.2 L652.2,427.6 L652.5,426.0 L652.9,424.4 L653.3,422.8 L653.9,421.3 L654.4,419.8 L655.1,418.3 L655.8,416.9 L656.6,415.4 L657.5,414.1 L658.4,412.8 L659.4,411.5 L660.4,410.3 L661.5,409.2 L662.6,408.1 L663.8,407.1 L665.0,406.2 L666.2,405.3 L667.5,404.6 L668.7,403.9 L670.1,403.3 L671.4,402.8 L672.7,402.4 L674.1,402.0 L675.4,401.8 L676.8,401.6 L678.1,401.6 L679.4,401.6 L680.8,401.8"/>
<!-- small holes -->
<g id="hole"><path class="h" d="M678.9,377.8 L679.1,377.9 L679.2,378.0 L679.3,378.2 L679.5,378.3 L679.6,378.5 L679.6,378.7 L679.7,378.9 L679.8,379.1 L679.8,379.3 L679.8,379.5 L679.8,379.7 L679.8,379.9 L679.7,380.1 L679.6,380.3 L679.5,380.5 L679.4,380.7 L679.3,380.9 L679.2,381.0 L679.0,381.1 L678.9,381.2 L678.7,381.3 L678.5,381.4 L678.3,381.5 L678.2,381.5 L678.0,381.5 L677.8,381.5 L677.6,381.4 L677.4,381.4 L677.2,381.3 L677.1,381.2 L676.9,381.1 L676.8,381.0 L676.6,380.8 L676.5,380.6 L676.4,380.5 L676.3,380.3 L676.3,380.1 L676.2,379.9 L676.2,379.7 L676.2,379.4 L676.2,379.2 L676.3,379.0 L676.3,378.8 L676.4,378.6 L676.5,378.4 L676.6,378.3 L676.7,378.1 L676.8,378.0"/></g>
<use href="#hole" transform="translate(15.5,17.5)"/>
<use href="#hole" transform="translate(37,20.5)"/>
<use href="#hole" transform="translate(-35.5,72.5)"/>
<use href="#hole" transform="translate(-16,81.5)"/>
<ellipse class="h" cx="678" cy="472.5" rx="3" ry="2.6"/>
<!-- semicircle thing -->
<path class="l" d="M605.6,502.2 Q599.5,495 601,487 Q603,476.5 612,471.5 Q621,467.5 629.6,473.4 Q635.5,478.5 637.4,486"/>
<path class="l" d="M624.5,472.5 Q632,476.5 634.5,486 M605.6,502.2 Q607.5,497 606.5,492"/>
<ellipse class="l" cx="618.2" cy="488.4" rx="5.2" ry="7"/>
<path class="h" d="M613,484.5 Q612,490 615,494.5"/>
<path class="h" style="stroke-width:.6;stroke:#444" d="M606.8,490.8v3.2 M608.2,491.5v3.2 M609.7,492.2v3.2 M611.1,493.0v3.2 M612.6,493.7v3.2 M614.0,494.4v3.2 M615.4,495.1v3.2 M616.9,495.8v3.2 M618.3,496.6v3.2 M619.8,497.3v3.2 M621.2,498.0v3.2 M624.8,481.2v3.2 M626.2,481.9v3.2 M627.6,482.7v3.2 M629.1,483.4v3.2 M630.5,484.2v3.2 M631.9,484.9v3.2 M633.4,485.7v3.2 M634.8,486.4v3.2 M636.2,487.2v3.2 M624.8,501.6v3.2 M626.2,502.2v3.2 M627.6,502.9v3.2 M629.0,503.6v3.2 M630.4,504.2v3.2 M631.8,504.9v3.2 M633.2,505.5v3.2 M634.6,506.1v3.2 M636.0,506.8v3.2 M637.4,507.4v3.2 M638.8,508.1v3.2 M640.2,508.8v3.2 M641.6,509.4v3.2 M611.6,505.2v2.4 M613.1,504.4v2.4 M614.6,503.7v2.4 M616.1,502.9v2.4 M617.6,502.2v2.4 M619.1,501.4v2.4 M620.6,500.7v2.4 M622.1,499.9v2.4 M623.6,499.2v2.4 M647.0,493.0v2.4 M648.4,493.8v2.4 M649.9,494.6v2.4 M651.3,495.4v2.4 M652.7,496.1v2.4 M654.1,496.9v2.4 M655.6,497.7v2.4 M657.0,498.5v2.4"/>
<path class="l" d="M606.8,490.8 L621.2,498 M624.8,481.2 L636.2,487.2 M611.6,505.2 L623.6,499.2 L635.6,492 M624.8,501.6 L641.6,509.4"/>
<path class="l w" d="M638,486 L645,487 Q647.5,488 647,490.5 Q646.5,492 644,492 L638,492 Q635.5,491 636,488.5 Q636.5,486.5 638,486Z"/>
<path class="h" d="M623,499 V512 M638.6,510 V523 M641.6,510 V524 M644,493 V524.5 M655.4,498 V531 M657.8,499 V532.5" style="stroke-width:1.2"/>
<path class="l" d="M646.4,491.4 L680.6,508.8 L660.2,534"/>
<!-- clip piece center -->
<path class="l" d="M694,518.5 L705.7,513 L731,526.6 L722,533 L712,534 M694,518.5 L694,531 L699,533.5 L699,521.5 L709,517 Q712,524 720,527 M699,521.5 L704,524 M712,534 Q722,533 724,527 Q722,522 716,522.5"/>
<path class="l" d="M699,533 L699,554 L710,561 L710,549 L721,552 L721,566 L728,569"/>
<path class="h" d="M704,536 v18 M716,551 v12 M726,553 v14"/>
<path class="h" d="M697,536 L686,548 M690,551 l-2,1.5"/>
<path class="h" d="M728,569 l6,3 l4,-1 l3,4 l4,-1 l3,4 M735,573 l-1.5,3 M741,576 l-1,3"/>
<path class="l" d="M731,527 H745 M758.5,527 H785"/>
<!-- connector bracket -->
<path class="l" d="M753,462.5 L757,459 L785,462 M753,462.5 L752,492 L746,498.5 L749,505 L762,514 L785,519.5 M753,462.5 L768,470.5 L768,500 L762,506 L749,498 M768,470.5 L785,473 M762,506 L762,514 M768,500 L752,492"/>
<ellipse class="l" cx="760.5" cy="482" rx="2.4" ry="3"/>
<path class="l" d="M752,481 L740,482 Q734,483 734,488 Q735,492.5 741,492 L752,490.5"/>
<ellipse class="h" cx="737" cy="487.5" rx="2.5" ry="3.5"/>
<!-- dotted plate -->
<path class="l" d="M785.3,580.5 L785.3,448 Q786.5,442.5 797,436.5"/>
<path class="k" style="stroke-width:2" d="M788,445.5 L876.5,496.3"/>
<path class="h" d="M792,450.5 L818,465 M832,473 L875,498.5"/>
<path class="l" d="M877,497 L877,610"/>
<path d="M788.8,452.4h2.8 M798.0,457.7h2.8 M788.8,463.0h2.8 M807.2,463.0h2.8 M798.0,468.3h2.8 M816.4,468.3h2.8 M788.8,473.6h2.8 M807.2,473.6h2.8 M825.6,473.6h2.8 M798.0,478.9h2.8 M816.4,478.9h2.8 M834.8,478.9h2.8 M788.8,484.2h2.8 M807.2,484.2h2.8 M825.6,484.2h2.8 M844.0,484.2h2.8 M798.0,489.5h2.8 M816.4,489.5h2.8 M834.8,489.5h2.8 M853.2,489.5h2.8 M788.8,494.8h2.8 M807.2,494.8h2.8 M825.6,494.8h2.8 M844.0,494.8h2.8 M862.4,494.8h2.8 M798.0,500.1h2.8 M816.4,500.1h2.8 M834.8,500.1h2.8 M853.2,500.1h2.8 M871.6,500.1h2.8 M788.8,505.4h2.8 M807.2,505.4h2.8 M825.6,505.4h2.8 M844.0,505.4h2.8 M862.4,505.4h2.8 M798.0,510.7h2.8 M816.4,510.7h2.8 M834.8,510.7h2.8 M853.2,510.7h2.8 M871.6,510.7h2.8 M788.8,516.0h2.8 M807.2,516.0h2.8 M825.6,516.0h2.8 M844.0,516.0h2.8 M862.4,516.0h2.8 M798.0,521.3h2.8 M816.4,521.3h2.8 M834.8,521.3h2.8 M853.2,521.3h2.8 M871.6,521.3h2.8 M788.8,526.6h2.8 M807.2,526.6h2.8 M825.6,526.6h2.8 M844.0,526.6h2.8 M862.4,526.6h2.8 M798.0,531.9h2.8 M816.4,531.9h2.8 M834.8,531.9h2.8 M853.2,531.9h2.8 M871.6,531.9h2.8 M788.8,537.2h2.8 M807.2,537.2h2.8 M825.6,537.2h2.8 M844.0,537.2h2.8 M862.4,537.2h2.8 M798.0,542.5h2.8 M816.4,542.5h2.8 M834.8,542.5h2.8 M853.2,542.5h2.8 M871.6,542.5h2.8 M788.8,547.8h2.8 M807.2,547.8h2.8 M825.6,547.8h2.8 M844.0,547.8h2.8 M862.4,547.8h2.8 M798.0,553.1h2.8 M816.4,553.1h2.8 M834.8,553.1h2.8 M853.2,553.1h2.8 M871.6,553.1h2.8 M788.8,558.4h2.8 M807.2,558.4h2.8 M825.6,558.4h2.8 M844.0,558.4h2.8 M862.4,558.4h2.8 M798.0,563.7h2.8 M816.4,563.7h2.8 M834.8,563.7h2.8 M853.2,563.7h2.8 M871.6,563.7h2.8 M788.8,569.0h2.8 M807.2,569.0h2.8 M825.6,569.0h2.8 M844.0,569.0h2.8 M862.4,569.0h2.8 M798.0,574.3h2.8 M816.4,574.3h2.8 M834.8,574.3h2.8 M853.2,574.3h2.8 M871.6,574.3h2.8 M807.2,579.6h2.8 M825.6,579.6h2.8 M844.0,579.6h2.8 M862.4,579.6h2.8 M798.0,584.9h2.8 M816.4,584.9h2.8 M834.8,584.9h2.8 M853.2,584.9h2.8 M871.6,584.9h2.8 M807.2,590.2h2.8 M825.6,590.2h2.8 M844.0,590.2h2.8 M862.4,590.2h2.8 M816.4,595.5h2.8 M834.8,595.5h2.8 M853.2,595.5h2.8 M871.6,595.5h2.8 M825.6,600.8h2.8 M844.0,600.8h2.8 M862.4,600.8h2.8 M834.8,606.1h2.8 M853.2,606.1h2.8 M871.6,606.1h2.8 M844.0,611.4h2.8 M862.4,611.4h2.8 M853.2,616.7h2.8 M871.6,616.7h2.8 M862.4,622.0h2.8 M871.6,627.3h2.8" stroke="#1a1a1a" stroke-width="1.3" fill="none"/>
<path class="h" d="M829,486.5 q2,-2 4,0 q1.5,3 -1,4"/>
<!-- shelf under plate -->

</g>
<!--TUBES-->
<g id="tubes">
<path d="M670,562.6 L706.6,583.8" fill="none" stroke="#151515" stroke-width="7.2" stroke-linecap="butt" stroke-linejoin="round"/><path d="M670,562.6 L706.6,583.8" fill="none" stroke="#fff" stroke-width="3.9" stroke-linecap="butt" stroke-linejoin="round"/><path d="M660.4,592.6 L696.6,613.6" fill="none" stroke="#151515" stroke-width="7.2" stroke-linecap="butt" stroke-linejoin="round"/><path d="M660.4,592.6 L696.6,613.6" fill="none" stroke="#fff" stroke-width="3.9" stroke-linecap="butt" stroke-linejoin="round"/><path d="M647.8,622 L685.8,644" fill="none" stroke="#151515" stroke-width="7.2" stroke-linecap="butt" stroke-linejoin="round"/><path d="M647.8,622 L685.8,644" fill="none" stroke="#fff" stroke-width="3.9" stroke-linecap="butt" stroke-linejoin="round"/>
<path d="M731,597 L786,628.2 Q806.5,640 807.6,664 L807.7,690" fill="none" stroke="#151515" stroke-width="7.2" stroke-linecap="butt" stroke-linejoin="round"/><path d="M731,597 L786,628.2 Q806.5,640 807.6,664 L807.7,690" fill="none" stroke="#fff" stroke-width="3.9" stroke-linecap="butt" stroke-linejoin="round"/><path d="M807.7,695.5 L807.7,819" fill="none" stroke="#151515" stroke-width="7.2" stroke-linecap="butt" stroke-linejoin="round"/><path d="M807.7,695.5 L807.7,819" fill="none" stroke="#fff" stroke-width="3.9" stroke-linecap="butt" stroke-linejoin="round"/><path d="M711,657 L737,672 Q752,681 752.7,702 L752.7,722" fill="none" stroke="#151515" stroke-width="7.2" stroke-linecap="butt" stroke-linejoin="round"/><path d="M711,657 L737,672 Q752,681 752.7,702 L752.7,722" fill="none" stroke="#fff" stroke-width="3.9" stroke-linecap="butt" stroke-linejoin="round"/><path d="M752.7,727.5 L752.7,798" fill="none" stroke="#151515" stroke-width="7.2" stroke-linecap="butt" stroke-linejoin="round"/><path d="M752.7,727.5 L752.7,798" fill="none" stroke="#fff" stroke-width="3.9" stroke-linecap="butt" stroke-linejoin="round"/><path d="M720.8,627 L764,651.5 Q780,661 781,686 L781,705.5" fill="none" stroke="#151515" stroke-width="7.2" stroke-linecap="butt" stroke-linejoin="round"/><path d="M720.8,627 L764,651.5 Q780,661 781,686 L781,705.5" fill="none" stroke="#fff" stroke-width="3.9" stroke-linecap="butt" stroke-linejoin="round"/><path d="M781,711 L780.5,722 Q779,738 765,747 L693,789.5" fill="none" stroke="#151515" stroke-width="7.2" stroke-linecap="butt" stroke-linejoin="round"/><path d="M781,711 L780.5,722 Q779,738 765,747 L693,789.5" fill="none" stroke="#fff" stroke-width="3.9" stroke-linecap="butt" stroke-linejoin="round"/>
<path class="l" d="M671.5,559.5 q-3,2 -2.5,6 M661.5,589.5 q-3,2 -2.5,6 M649,619 q-3,2 -2.5,6"/>
<g id="clamp">
<path class="l w" d="M710.2,580 L724,582.4 Q732,584.5 735.5,589.5 L736,594 Q736,602 728,605.2 L708.4,604.6 L701.8,601 Z"/>
<path class="l" d="M710.2,580 L715,583 L708.4,604.6 M715,583 L724.5,585 Q730,586.5 732,590"/>
<path class="h" d="M707.5,586 L703.5,600 M709.8,587 L705.5,601.5 M712.3,588 L708.2,601.5" style="stroke-width:.8"/>
<ellipse class="l w" cx="728.8" cy="596.2" rx="5.4" ry="6.2" style="stroke-width:1.8"/>
<ellipse class="l" cx="730.2" cy="596.8" rx="3.2" ry="3.9"/>
<path class="h" d="M737.5,594.5 l4,1.6 l0.6,-2 M738.5,597 l3,1.2"/>
</g>
<use href="#clamp" transform="translate(-10.2,30)"/>
<use href="#clamp" transform="translate(-21.4,59.6)"/>
<!-- break marks -->
<path class="l" d="M804.1,690 q1.8,-2.4 3.6,0 q1.8,2 3.6,0 M804.1,695.5 q1.8,2.4 3.6,0 q1.8,-2 3.6,0 M777.4,705.5 q1.8,-2.4 3.6,0 q1.8,2 3.6,0 M777.4,711 q1.8,2.4 3.6,0 q1.8,-2 3.6,0 M749.1,722 q1.8,-2.4 3.6,0 q1.8,2 3.6,0 M749.1,727.5 q1.8,2.4 3.6,0 q1.8,-2 3.6,0"/>
<!-- part 10 sleeve -->
<path class="l w" d="M747,797.8 L756,797.8 L756,848.5 Q751.5,851 747,848.5 Z"/>
<path class="h" d="M749.2,798 Q751.5,800.5 753.8,798"/>
<!-- part 11 fitting -->
<path class="l w" d="M801,819.5 Q807.5,817.5 815,819.5 L815.5,824 L814,833.5 Q807.5,836 801.5,833.5 L800.5,824 Z"/>
<path class="h" d="M801,823.5 Q807.5,826 815,823.5 M803,820 v13 M805.5,820 v14 M808,820 v14 M810.5,820 v14 M813,820 v13" style="stroke-width:.9"/>
<path class="l w" d="M804,835 L804,846.5 Q807.5,849.5 810.5,846.5 L810.5,835"/>
<!-- switch part 9 -->
<path class="l w" d="M655,796 L682.5,779 L692,786 L693,808 L670.5,830.5 L655,820.5 Z" style="stroke-width:1.9"/>
<path class="l" d="M655,796 L665,803.5 L692,786 M665,803.5 L666,818 L670.5,830.5 M655,809.5 L666,817 L693,800.5 M655,814 L666,821.5 L693,804.5"/>
<path d="M666.5,822 L673.5,817.8 L674,826 L670.5,829.5 Z M684.5,808 L690,805 L690.5,810.5 L685,814 Z M657,816.5 l5,3.4 l0,4 l-5,-3.2z" fill="#1a1a1a"/>
<path class="h" d="M676,815.5 l0,7 M680,813 l0,7"/>
</g>
<!--SMALL-->
<g id="small">
<g id="ledp">
<path class="l" d="M425.7,824 V840 M429.9,824 V841.5" style="stroke-width:2.1"/>
<path class="l w" d="M422.8,822 L422.8,798 C422.8,792 425.5,789.2 428,789.2 C430.5,789.2 433.2,792 433.2,798 L433.2,822 Q432.5,825 428,825.2 Q423.5,825 422.8,822 Z" style="stroke-width:2.2"/>
<path class="h" d="M423,819 Q428,821 433,819 M423,814.5 Q428,816.5 433,814.5 M424.5,796.5 Q428,794.5 431.5,796.5" style="stroke-width:1.3"/>
<path d="M425.3,800 L427,799 L427.2,809 L425.5,811 Z M430.8,799.5 L429.6,806 L431,811 L429,812.5 L427.8,806 L429.4,800Z" fill="#333"/>
</g>
<use href="#ledp" transform="translate(-21.8,12.7)"/>
<use href="#ledp" transform="translate(-44.3,25.4)"/>
<!-- screw 12 -->
<path class="l w" d="M540,798.5 q2.5,-2.5 5,0 q2.5,-2.2 5,0.4 q2.3,-2 4.6,0.6 q2.2,-1.8 4.4,0.8 q2,-1.6 4,1 q2,-1.4 4,1 q2,-1 3.5,0.6 q2.6,1.6 0.5,4 q-2,2 -4.5,1 q-2,1.6 -4,-0.4 q-2.2,1.8 -4.4,-0.4 q-2.3,2 -4.6,-0.3 q-2.5,2.2 -5,-0.2 q-2.5,2.4 -5,-0.2 q-1.5,1 -3.5,0 Z"/>
<path class="h" d="M545,798.5 v10 M550,799 v9.6 M554.6,799.5 v9 M559,800.3 v8 M563,801.3 v7 M567,802.3 v5.6"/>
<ellipse class="k w" cx="533.6" cy="802.3" rx="6.6" ry="8.8" style="stroke-width:2.1" transform="rotate(-8 533.6 802.3)"/>
<path class="l" d="M530.8,797 L535,796 L537.6,800.6 L536.2,806.6 L532.2,807.6 L529.6,802.6 Z"/>
<!-- screw 6 -->
<path d="M227,168.2 L249.6,155.6" stroke="#111" stroke-width="5.8" stroke-linecap="round" fill="none"/>
<path d="M229,167.1 L249.4,155.7" stroke="#fff" stroke-width="2.3" stroke-dasharray="2.1 1.1" fill="none"/>
<ellipse cx="223" cy="170.2" rx="4.6" ry="5.3" transform="rotate(-25 223 170.2)" fill="#fff" stroke="#111" stroke-width="2.2"/>
<path class="h" d="M221,168.5 l1.6,3.6 l2.4,-3.4" style="stroke-width:1"/>
<!-- screws 3 -->
<g id="scr3"><path class="l w" d="M277.6,316 L277.9,323.5 Q280.3,324.8 282.8,323.5 L283,316 Z"/><path class="h" d="M277.8,318.2 l5,1 M277.8,320.2 l5,1 M277.9,322.2 l4.8,0.8"/>
<ellipse class="l w" cx="280.2" cy="314.2" rx="5" ry="2.9" style="stroke-width:1.8"/><path class="l" d="M275.2,314.2 Q276,318 280.2,318.3 Q284.5,318 285.2,314.2"/><path class="h" d="M277.5,313.4 l5.4,1.4"/></g>
<use href="#scr3" transform="translate(24.8,-2.6)"/>
</g>
<!--NUMBERS-->
<g id="numbers">
<g class="l" style="stroke-width:2.25">
<path d="M328.3,145.5 L338,150.8 M305,176.3 L315.5,181.5 M422.5,191.3 L436.3,198 M400.8,222 L415,229.5 M201.5,181.5 L216.5,173.3 M222.5,271.3 L238,263.8 M258.8,325 L273.8,317.5 M206.5,584 L222,575"/>
<path d="M280,718.8 L294,725.8 M280,785.2 L295.2,794 M280,857.2 L295.2,866"/>
<path d="M435.5,823.7 L456.2,835.2 M412.5,837 L432,847.8 M390.7,851.3 L411.4,861.6 M555,813.4 L571,821.9"/>
<path d="M665,673 L680.6,665.4 M702.5,761 L718.8,768.8 M729.5,820 L744.5,828.8 M813.8,805 L830,813.8"/>
</g>
<text class="n" x="340.3" y="165">5</text>
<text class="n" x="317.5" y="193.8">4</text>
<text class="n" x="440" y="213.8">5</text>
<text class="n" x="417.5" y="242.5">4</text>
<text class="n" x="186" y="194.5">6</text>
<text class="n" x="207.3" y="283">2</text>
<text class="n" x="243.7" y="336.2">3</text>
<text class="n" x="194" y="594.5">1</text>
<text class="n" x="297" y="741">13</text>
<text class="n" x="297" y="809">14</text>
<text class="n" x="297" y="881">15</text>
<text class="n" x="457.5" y="849.5">7</text>
<text class="n" x="434" y="863.5">7</text>
<text class="n" x="413" y="878">7</text>
<text class="n" x="572.5" y="839">12</text>
<text class="n" x="650.3" y="685.3">8</text>
<text class="n" x="688" y="762.5">9</text>
<text class="n" x="704" y="822.5">10</text>
<text class="n" x="833.5" y="823">11</text>
</g>
</g>
</svg>
</body></html>
